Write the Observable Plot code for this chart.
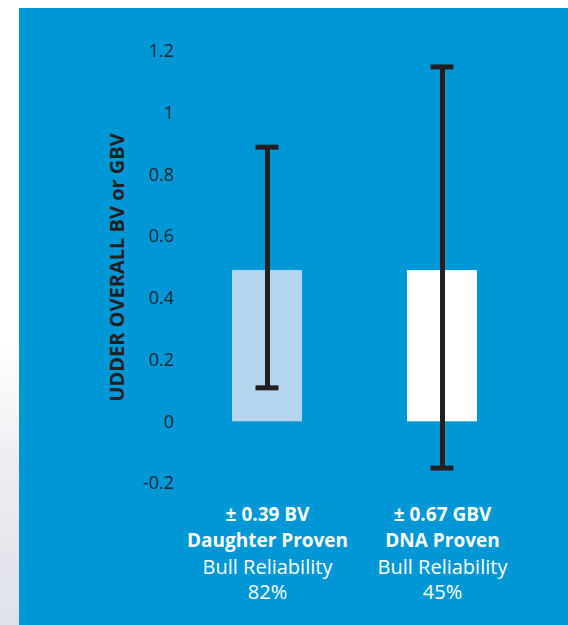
<!DOCTYPE html>
<html>
<head>
<meta charset="utf-8">
<script src="https://cdn.jsdelivr.net/npm/d3@7"></script>
<script src="https://cdn.jsdelivr.net/npm/@observablehq/plot@0.6"></script>
<style>
  html, body { margin: 0; padding: 0; }
  #page {
    position: relative; width: 568px; height: 625px; overflow: hidden;
    background: linear-gradient(to bottom, #ffffff 0%, #ffffff 55%, #eeecf1 75%, #dfe2ea 100%);
  }
  #chart { position: absolute; left: 19px; top: 8px; }
</style>
</head>
<body>
<div id="page"><div id="chart"></div></div>
<script>
// Data
const categories = ["Daughter Proven", "DNA Proven"];
const values = [0.49, 0.49];
const lower = [0.11, -0.15];
const upper = [0.89, 1.15];
const accuracyLabels = ["± 0.39 BV", "± 0.67 GBV"];
const reliabilityText = ["Bull Reliability", "Bull Reliability"];
const reliabilityValues = ["82%", "45%"];
const yTicks = [-0.2, 0, 0.2, 0.4, 0.6, 0.8, 1, 1.2];
const yTitle = "UDDER OVERALL BV or GBV";

const rows = categories.map((c, i) => ({
  cat: c, value: values[i], lo: lower[i], hi: upper[i],
  acc: accuracyLabels[i], rel: reliabilityText[i], pct: reliabilityValues[i]
}));

const BLUE = "#0097d7";
const INK = "#231f20";

const chart = Plot.plot({
  width: 549,
  height: 617,
  marginTop: 43,
  marginBottom: 142,
  marginLeft: 160.5,
  marginRight: 38.5,
  style: { background: BLUE, fontFamily: "'Open Sans', sans-serif", overflow: "visible" },
  x: { domain: categories, paddingInner: 0.6, paddingOuter: 0.3, axis: null },
  y: { domain: [-0.2, 1.2], ticks: yTicks },
  color: { domain: categories, range: ["#b6d6ef", "#ffffff"] },
  marks: [
    Plot.axisY({
      ticks: yTicks, tickSize: 0, tickPadding: 6, label: null,
      tickFormat: d => String(+d.toFixed(1)),
      fontSize: 18, fill: "#1e2830", fontWeight: 400
    }),
    Plot.barY(rows, { x: "cat", y1: 0, y2: "value", fill: "cat" }),
    Plot.ruleX(rows, { x: "cat", y1: "lo", y2: "hi", stroke: INK, strokeWidth: 5 }),
    Plot.tickY(rows, { x: "cat", y: "lo", stroke: INK, strokeWidth: 5, inset: 23.5 }),
    Plot.tickY(rows, { x: "cat", y: "hi", stroke: INK, strokeWidth: 5, inset: 23.5 }),
    Plot.text([yTitle], {
      frameAnchor: "left", text: d => d, rotate: -90, dx: -62.5, dy: 0,
      textAnchor: "middle", lineAnchor: "middle",
      fontSize: 20, fontWeight: 700, fill: INK
    }),
    Plot.text(rows, { x: "cat", text: "acc", frameAnchor: "bottom", dy: 31.5, fontSize: 19, fontWeight: 700, fill: "white", lineAnchor: "middle" }),
    Plot.text(rows, { x: "cat", text: "cat", frameAnchor: "bottom", dy: 57, fontSize: 19, fontWeight: 700, fill: "white", lineAnchor: "middle" }),
    Plot.text(rows, { x: "cat", text: "rel", frameAnchor: "bottom", dy: 84, fontSize: 20, fontWeight: 400, fill: "white", lineAnchor: "middle" }),
    Plot.text(rows, { x: "cat", text: "pct", frameAnchor: "bottom", dy: 109.5, fontSize: 20, fontWeight: 400, fill: "white", lineAnchor: "middle" })
  ]
});
document.getElementById("chart").appendChild(chart);
</script>
</body>
</html>
